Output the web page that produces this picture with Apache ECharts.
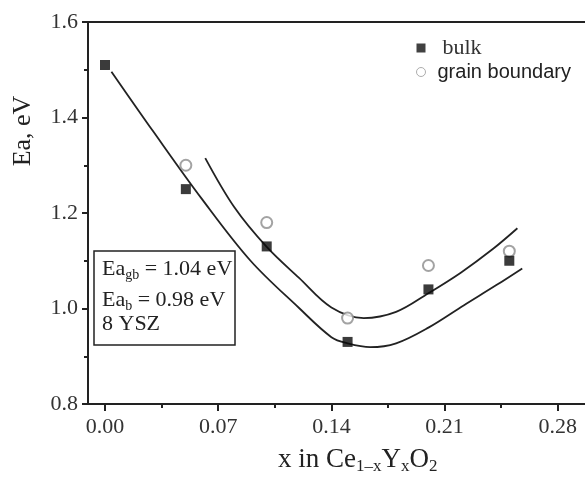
<!DOCTYPE html>
<html><head><meta charset="utf-8">
<script src="https://cdn.jsdelivr.net/npm/echarts@6/dist/echarts.min.js"></script>
<style>html,body{margin:0;padding:0;background:#fff}#c{width:585px;height:477px}</style>
</head><body><div id="c"></div>
<script>
// measured points
const xBulk = [0.00, 0.05, 0.10, 0.15, 0.20, 0.25];
const eaBulk = [1.51, 1.25, 1.13, 0.93, 1.04, 1.10];
const xGb = [0.05, 0.10, 0.15, 0.20, 0.25];
const eaGb = [1.30, 1.18, 0.98, 1.09, 1.12];
// fitted curves
const fitBulkX = [0.004, 0.030, 0.060, 0.090, 0.120, 0.140, 0.150, 0.164, 0.180, 0.200, 0.222, 0.242, 0.258];
const fitBulkY = [1.496, 1.370, 1.229, 1.100, 1.001, 0.940, 0.927, 0.919, 0.927, 0.960, 1.007, 1.049, 1.084];
const fitGbX = [0.062, 0.080, 0.100, 0.120, 0.140, 0.160, 0.180, 0.200, 0.220, 0.240, 0.255];
const fitGbY = [1.315, 1.212, 1.129, 1.064, 1.002, 0.980, 0.993, 1.032, 1.075, 1.125, 1.168];
// tick labels
const xMajorTicks = [0.00, 0.07, 0.14, 0.21, 0.28];
const xMinorTicks = [0.035, 0.105, 0.175, 0.245];

const SERIF = '"Liberation Serif", "Times New Roman", serif';
const SANS = '"Liberation Sans", Arial, sans-serif';
const INK = '#222';
const X_MIN = -0.0105, X_MAX = 0.2968;

const pairs = (xs, ys) => xs.map((x, i) => [x, ys[i]]);

const chart = echarts.init(document.getElementById('c'), null, {renderer: 'canvas'});
chart.setOption({
  backgroundColor: '#fff',
  animation: false,
  grid: {left: 88, top: 22, right: 0, bottom: 73},
  xAxis: [{
    type: 'value', min: X_MIN, max: X_MAX, position: 'bottom',
    axisLine: {show: true, onZero: false, lineStyle: {color: INK, width: 2}},
    axisTick: {show: true, inside: false, length: 7, customValues: xMajorTicks, lineStyle: {color: INK, width: 2}},
    axisLabel: {show: true, customValues: xMajorTicks, formatter: v => v.toFixed(2), margin: 12,
      fontFamily: SERIF, fontSize: 22, color: '#333'},
    splitLine: {show: false}
  }, {
    type: 'value', min: X_MIN, max: X_MAX, position: 'bottom',
    axisLine: {show: false, onZero: false},
    axisTick: {show: true, inside: false, length: 4, customValues: xMinorTicks, lineStyle: {color: INK, width: 2}},
    axisLabel: {show: false},
    splitLine: {show: false}
  }, {
    type: 'value', min: X_MIN, max: X_MAX, position: 'top',
    axisLine: {show: true, onZero: false, lineStyle: {color: INK, width: 2}},
    axisTick: {show: false}, axisLabel: {show: false}, splitLine: {show: false}
  }],
  yAxis: {
    type: 'value', min: 0.8, max: 1.6, interval: 0.2,
    axisLine: {show: true, onZero: false, lineStyle: {color: INK, width: 2}},
    axisTick: {show: true, inside: false, length: 6, lineStyle: {color: INK, width: 2}},
    minorTick: {show: true, splitNumber: 2, length: 4, lineStyle: {color: INK, width: 2}},
    axisLabel: {formatter: v => v.toFixed(1), margin: 10, fontFamily: SERIF, fontSize: 22, color: '#333'},
    splitLine: {show: false}
  },
  legend: {
    orient: 'vertical', left: 416, top: 37, padding: 0, itemWidth: 9, itemHeight: 9, itemGap: 3,
    selectedMode: false,
    data: [
      {name: 'bulk', icon: 'rect', itemStyle: {color: '#111'}},
      {name: 'grain boundary', icon: 'circle', itemStyle: {color: '#fff', borderColor: '#999', borderWidth: 1}}
    ],
    formatter: n => n === 'bulk' ? '{b|bulk}' : '{g|grain boundary}',
    textStyle: {rich: {
      b: {fontFamily: SERIF, fontSize: 22, lineHeight: 24, padding: [0, 0, 0, 12], color: '#333'},
      g: {fontFamily: SANS, fontSize: 20, lineHeight: 24, padding: [0, 0, 0, 7], color: '#222'}
    }}
  },
  series: [
    {name: 'fit bulk', type: 'line', data: pairs(fitBulkX, fitBulkY), smooth: 0.35, showSymbol: false,
      lineStyle: {color: INK, width: 1.8}, z: 2},
    {name: 'fit gb', type: 'line', data: pairs(fitGbX, fitGbY), smooth: 0.35, showSymbol: false,
      lineStyle: {color: INK, width: 1.8}, z: 2},
    {name: 'grain boundary', type: 'scatter', data: pairs(xGb, eaGb), symbol: 'emptyCircle', symbolSize: 11,
      itemStyle: {color: '#8c8c8c', borderWidth: 1.3}, z: 3},
    {name: 'bulk', type: 'scatter', data: pairs(xBulk, eaBulk), symbol: 'rect', symbolSize: 10,
      itemStyle: {color: '#0a0a0a'}, z: 4}
  ],
  graphic: [
    {type: 'text', x: 23, y: 131, rotation: Math.PI / 2,
      style: {text: 'Ea, eV', font: '26px ' + SERIF, fill: INK, align: 'center', verticalAlign: 'middle'}},
    {type: 'text', x: 278, y: 445,
      style: {text: '{m|x in Ce}{s|1–x}{m|Y}{s|x}{m|O}{s|2}', verticalAlign: 'top', align: 'left',
        rich: {
          m: {fontFamily: SERIF, fontSize: 27, lineHeight: 30, fill: INK},
          s: {fontFamily: SERIF, fontSize: 17, lineHeight: 6, verticalAlign: 'bottom', fill: INK}
        }}},
    {type: 'rect', shape: {x: 94, y: 251, width: 141, height: 94},
      style: {fill: '#fff', stroke: INK, lineWidth: 1.5}, z: 10},
    {type: 'text', x: 102, y: 256, z: 11,
      style: {text: '{m|Ea}{s|gb}{m| = 1.04 eV}', verticalAlign: 'top', align: 'left',
        rich: {
          m: {fontFamily: SERIF, fontSize: 22, lineHeight: 26, fill: INK},
          s: {fontFamily: SERIF, fontSize: 14, lineHeight: 12, verticalAlign: 'bottom', fill: INK}
        }}},
    {type: 'text', x: 102, y: 287, z: 11,
      style: {text: '{m|Ea}{s|b}{m| = 0.98 eV}', verticalAlign: 'top', align: 'left',
        rich: {
          m: {fontFamily: SERIF, fontSize: 22, lineHeight: 26, fill: INK},
          s: {fontFamily: SERIF, fontSize: 14, lineHeight: 2, verticalAlign: 'bottom', fill: INK}
        }}},
    {type: 'text', x: 102, y: 313, z: 11,
      style: {text: '8 YSZ', font: '22px ' + SERIF, fill: INK, verticalAlign: 'top', align: 'left'}}
  ]
});
</script>
</body></html>
